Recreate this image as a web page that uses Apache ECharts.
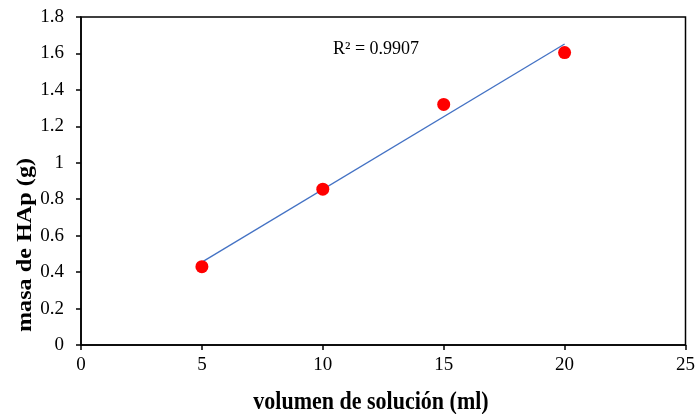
<!DOCTYPE html>
<html>
<head>
<meta charset="utf-8">
<script src="https://cdn.jsdelivr.net/npm/echarts@6/dist/echarts.min.js"></script>
<style>
  html, body { margin: 0; padding: 0; background: #fff; }
  #chart { width: 698px; height: 414px; }
</style>
</head>
<body>
<div id="chart"></div>
<script>
// Measured samples: solution volume (ml) vs. HAp mass (g)
const volumes = [5, 10, 15, 20];
const masses = [0.43, 0.855, 1.32, 1.605];
// Linear trendline end points
const trendX = [5, 20];
const trendY = [0.455, 1.652];
const r2Label = 'R² = 0.9907';
const xTitle = 'volumen de solución (ml)';
const yTitle = 'masa de HAp (g)';

const serif = '"Liberation Serif", "Times New Roman", serif';

const chart = echarts.init(document.getElementById('chart'), null, { renderer: 'canvas' });

const axisCommon = {
  axisLine: { show: true, onZero: false, lineStyle: { color: '#000', width: 1.5 } },
  axisTick: { show: true, inside: false, length: 5, lineStyle: { color: '#000', width: 1.5 } },
  splitLine: { show: false },
};

chart.setOption({
  animation: false,
  backgroundColor: '#fff',
  grid: { left: 81, top: 17, right: 10, bottom: 69, show: true, borderColor: '#000', borderWidth: 1.5 },
  xAxis: Object.assign({
    type: 'value', min: 0, max: 25, interval: 5,
    axisLabel: { color: '#000', fontFamily: serif, fontSize: 19, margin: 11 },
  }, axisCommon),
  yAxis: Object.assign({
    type: 'value', min: 0, max: 1.8, interval: 0.2,
    axisLabel: {
      color: '#000', fontFamily: serif, fontSize: 19, margin: 17,
      formatter: v => String(Math.round(v * 10) / 10),
    },
  }, axisCommon),
  series: [
    {
      type: 'line',
      data: trendX.map((x, i) => [x, trendY[i]]),
      symbol: 'none',
      lineStyle: { color: '#4472C4', width: 1.3 },
      z: 2,
    },
    {
      type: 'scatter',
      data: volumes.map((x, i) => [x, masses[i]]),
      symbol: 'circle',
      symbolSize: 13,
      itemStyle: { color: '#FF0000', opacity: 1 },
      z: 3,
    },
  ],
  graphic: [
    {
      type: 'text', left: 333, top: 40,
      style: { text: r2Label, fontFamily: serif, fontSize: 18, fill: '#000' },
    },
    {
      type: 'text', x: 371, y: 403, scaleY: 1.1,
      style: { text: xTitle, fontFamily: serif, fontSize: 22, fontWeight: 'bold', fill: '#000',
               align: 'center', verticalAlign: 'middle' },
    },
    {
      type: 'text', x: 25, y: 245, rotation: Math.PI / 2, scaleX: 1.1,
      style: { text: yTitle, fontFamily: serif, fontSize: 22, fontWeight: 'bold', fill: '#000',
               align: 'center', verticalAlign: 'middle' },
    },
  ],
});
</script>
</body>
</html>
